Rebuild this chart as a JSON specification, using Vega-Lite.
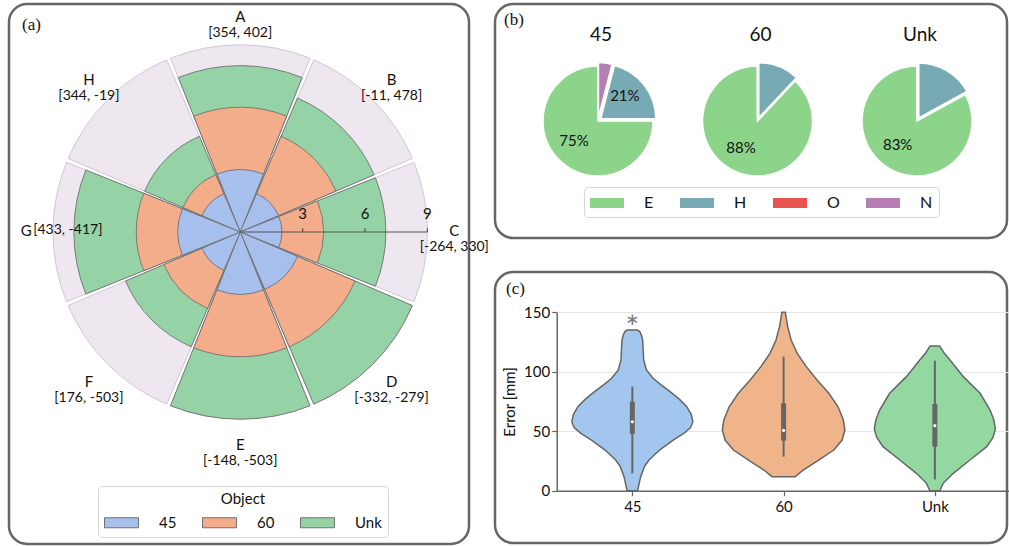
{
  "$schema": "https://vega.github.io/schema/vega-lite/v6.json",
  "background": "white",
  "padding": {"left": 7, "top": 2, "right": 0, "bottom": 0},
  "datasets": {
    "sectors": [
      {"sector": "A", "coord": "[354, 402]", "w": 1, "r45": 3, "r60": 6, "unk": 8},
      {"sector": "B", "coord": "[-11, 478]", "w": 1, "r45": 2, "r60": 5, "unk": 7},
      {"sector": "C", "coord": "[-264, 330]", "w": 1, "r45": 2, "r60": 4, "unk": 7},
      {"sector": "D", "coord": "[-332, -279]", "w": 1, "r45": 3, "r60": 6, "unk": 9},
      {"sector": "E", "coord": "[-148, -503]", "w": 1, "r45": 3, "r60": 6, "unk": 9},
      {"sector": "F", "coord": "[176, -503]", "w": 1, "r45": 2, "r60": 4, "unk": 6},
      {"sector": "G", "coord": "[433, -417]", "w": 1, "r45": 3, "r60": 5, "unk": 8},
      {"sector": "H", "coord": "[344, -19]", "w": 1, "r45": 2, "r60": 3, "unk": 5}
    ],
    "ticks": [{"t": 3}, {"t": 6}, {"t": 9}],
    "pie": [
      {"obj": "45", "type": "E", "pct": 75, "lab": "75%"},
      {"obj": "45", "type": "H", "pct": 21, "lab": "21%"},
      {"obj": "45", "type": "O", "pct": 0, "lab": ""},
      {"obj": "45", "type": "N", "pct": 4, "lab": ""},
      {"obj": "60", "type": "E", "pct": 88, "lab": "88%"},
      {"obj": "60", "type": "H", "pct": 12, "lab": ""},
      {"obj": "60", "type": "O", "pct": 0, "lab": ""},
      {"obj": "60", "type": "N", "pct": 0, "lab": ""},
      {"obj": "Unk", "type": "E", "pct": 83, "lab": "83%"},
      {"obj": "Unk", "type": "H", "pct": 17, "lab": ""},
      {"obj": "Unk", "type": "O", "pct": 0, "lab": ""},
      {"obj": "Unk", "type": "N", "pct": 0, "lab": ""}
    ],
    "pietitles": [{"obj": "45"}, {"obj": "60"}, {"obj": "Unk"}],
    "violin": [
      {"obj": "45", "err": 0, "lo": -0.035, "hi": 0.035},
      {"obj": "45", "err": 6, "lo": -0.045, "hi": 0.045},
      {"obj": "45", "err": 11.8, "lo": -0.055, "hi": 0.055},
      {"obj": "45", "err": 20.2, "lo": -0.08, "hi": 0.08},
      {"obj": "45", "err": 25.8, "lo": -0.11, "hi": 0.11},
      {"obj": "45", "err": 34.2, "lo": -0.18, "hi": 0.18},
      {"obj": "45", "err": 42.6, "lo": -0.27, "hi": 0.27},
      {"obj": "45", "err": 48.2, "lo": -0.34, "hi": 0.34},
      {"obj": "45", "err": 53, "lo": -0.385, "hi": 0.385},
      {"obj": "45", "err": 58, "lo": -0.4, "hi": 0.4},
      {"obj": "45", "err": 64, "lo": -0.39, "hi": 0.39},
      {"obj": "45", "err": 70.6, "lo": -0.36, "hi": 0.36},
      {"obj": "45", "err": 77, "lo": -0.31, "hi": 0.31},
      {"obj": "45", "err": 83.3, "lo": -0.25, "hi": 0.25},
      {"obj": "45", "err": 89, "lo": -0.19, "hi": 0.19},
      {"obj": "45", "err": 94.5, "lo": -0.137, "hi": 0.137},
      {"obj": "45", "err": 101.5, "lo": -0.093, "hi": 0.093},
      {"obj": "45", "err": 109.9, "lo": -0.075, "hi": 0.075},
      {"obj": "45", "err": 121.1, "lo": -0.071, "hi": 0.071},
      {"obj": "45", "err": 127, "lo": -0.068, "hi": 0.068},
      {"obj": "45", "err": 130.9, "lo": -0.06, "hi": 0.06},
      {"obj": "45", "err": 134, "lo": -0.048, "hi": 0.048},
      {"obj": "45", "err": 135.1, "lo": -0.033, "hi": 0.033},
      {"obj": "60", "err": 11.8, "lo": 0.923, "hi": 1.077},
      {"obj": "60", "err": 17.4, "lo": 0.87, "hi": 1.13},
      {"obj": "60", "err": 25.8, "lo": 0.768, "hi": 1.232},
      {"obj": "60", "err": 34.2, "lo": 0.668, "hi": 1.332},
      {"obj": "60", "err": 42.6, "lo": 0.613, "hi": 1.387},
      {"obj": "60", "err": 51, "lo": 0.595, "hi": 1.405},
      {"obj": "60", "err": 59.4, "lo": 0.605, "hi": 1.395},
      {"obj": "60", "err": 70.6, "lo": 0.64, "hi": 1.36},
      {"obj": "60", "err": 81.9, "lo": 0.701, "hi": 1.299},
      {"obj": "60", "err": 93.1, "lo": 0.779, "hi": 1.221},
      {"obj": "60", "err": 104.3, "lo": 0.85, "hi": 1.15},
      {"obj": "60", "err": 115.5, "lo": 0.91, "hi": 1.09},
      {"obj": "60", "err": 126.7, "lo": 0.95, "hi": 1.05},
      {"obj": "60", "err": 137.9, "lo": 0.973, "hi": 1.027},
      {"obj": "60", "err": 150, "lo": 0.989, "hi": 1.011},
      {"obj": "Unk", "err": 0, "lo": 1.967, "hi": 2.033},
      {"obj": "Unk", "err": 6.2, "lo": 1.945, "hi": 2.055},
      {"obj": "Unk", "err": 14.6, "lo": 1.878, "hi": 2.122},
      {"obj": "Unk", "err": 25.8, "lo": 1.768, "hi": 2.232},
      {"obj": "Unk", "err": 37, "lo": 1.657, "hi": 2.343},
      {"obj": "Unk", "err": 45, "lo": 1.615, "hi": 2.385},
      {"obj": "Unk", "err": 51.9, "lo": 1.6, "hi": 2.4},
      {"obj": "Unk", "err": 59.4, "lo": 1.61, "hi": 2.39},
      {"obj": "Unk", "err": 67.8, "lo": 1.635, "hi": 2.365},
      {"obj": "Unk", "err": 81.9, "lo": 1.701, "hi": 2.299},
      {"obj": "Unk", "err": 95.9, "lo": 1.812, "hi": 2.188},
      {"obj": "Unk", "err": 109.9, "lo": 1.9, "hi": 2.1},
      {"obj": "Unk", "err": 116, "lo": 1.94, "hi": 2.06},
      {"obj": "Unk", "err": 121.7, "lo": 1.969, "hi": 2.031}
    ],
    "box": [
      {"obj": "45", "pos": 0, "wlo": 14.6, "whi": 87.5, "q1": 47.7, "q3": 74.9, "med": 58.0},
      {"obj": "60", "pos": 1, "wlo": 28.6, "whi": 112.7, "q1": 42.1, "q3": 73.5, "med": 50.7},
      {"obj": "Unk", "pos": 2, "wlo": 9.5, "whi": 109.3, "q1": 37.0, "q3": 72.9, "med": 54.7}
    ],
    "sig": [{"obj": "45", "pos": 0, "err": 142, "mark": "*"}]
  },
  "hconcat": [
    {
      "width": 460,
      "height": 540,
      "data": {"name": "sectors"},
      "layer": [
        {
          "transform": [{"stack": "w", "groupby": [], "sort": [{"field": "sector", "order": "ascending"}], "as": ["t0", "t1"]}],
          "mark": {"type": "arc", "fill": "#efe7f0", "stroke": "#cec6d2", "strokeWidth": 1, "padAngle": 0.022},
          "encoding": {
            "theta": {"field": "t0", "type": "quantitative", "stack": null, "scale": {"domain": [0, 8], "range": [-0.3927, 5.8905]}},
            "theta2": {"field": "t1"},
            "radius": {"datum": 9, "type": "quantitative", "scale": {"type": "linear", "domain": [0, 9], "range": [0, 187.2], "zero": true, "nice": false}},
            "x": {"datum": 0, "type": "quantitative", "scale": {"domain": [-11.12, 11.0], "nice": false, "zero": false}, "axis": null},
            "y": {"datum": 0, "type": "quantitative", "scale": {"domain": [-15.0, 10.96], "nice": false, "zero": false}, "axis": null}
          }
        },
        {
          "transform": [{"stack": "w", "groupby": [], "sort": [{"field": "sector", "order": "ascending"}], "as": ["t0", "t1"]}],
          "mark": {"type": "arc", "stroke": "#707070", "strokeWidth": 0.9, "padAngle": 0.022},
          "encoding": {
            "theta": {"field": "t0", "type": "quantitative", "stack": null},
            "theta2": {"field": "t1"},
            "radius": {"field": "unk", "type": "quantitative", "stack": null},
            "x": {"datum": 0, "type": "quantitative"},
            "y": {"datum": 0, "type": "quantitative"},
            "color": {"datum": "Unk", "type": "nominal",
              "scale": {"domain": ["45", "60", "Unk"], "range": ["#a6bfec", "#f4ad8b", "#95d3a6"]},
              "legend": {"title": "Object", "orient": "none", "legendX": 89, "legendY": 482, "direction": "horizontal", "titleAnchor": "middle", "titleFontSize": 15, "titleFontWeight": "normal", "titleColor": "#111", "titlePadding": 5, "labelFontSize": 15, "labelColor": "#111", "labelOffset": 27, "symbolType": "M-1.7,-0.5H1.7V0.5H-1.7Z", "symbolSize": 400, "symbolOffset": 7, "symbolStrokeColor": "#888", "symbolStrokeWidth": 1, "symbolOpacity": 1, "columnPadding": 23, "gridAlign": "each", "padding": 6, "strokeColor": "#d6d6d6", "fillColor": "white", "cornerRadius": 4}}
          }
        },
        {
          "transform": [{"stack": "w", "groupby": [], "sort": [{"field": "sector", "order": "ascending"}], "as": ["t0", "t1"]}],
          "mark": {"type": "arc", "stroke": "#707070", "strokeWidth": 0.9, "padAngle": 0.022},
          "encoding": {
            "theta": {"field": "t0", "type": "quantitative", "stack": null},
            "theta2": {"field": "t1"},
            "radius": {"field": "r60", "type": "quantitative", "stack": null},
            "x": {"datum": 0, "type": "quantitative"},
            "y": {"datum": 0, "type": "quantitative"},
            "color": {"datum": "60", "type": "nominal"}
          }
        },
        {
          "transform": [{"stack": "w", "groupby": [], "sort": [{"field": "sector", "order": "ascending"}], "as": ["t0", "t1"]}],
          "mark": {"type": "arc", "stroke": "#707070", "strokeWidth": 0.9, "padAngle": 0.022},
          "encoding": {
            "theta": {"field": "t0", "type": "quantitative", "stack": null},
            "theta2": {"field": "t1"},
            "radius": {"field": "r45", "type": "quantitative", "stack": null},
            "x": {"datum": 0, "type": "quantitative"},
            "y": {"datum": 0, "type": "quantitative"},
            "color": {"datum": "45", "type": "nominal"}
          }
        },
        {
          "data": {"values": [{"axis": "r"}]},
          "mark": {"type": "rule", "color": "#555555", "strokeWidth": 1.2},
          "encoding": {
            "x": {"datum": 0, "type": "quantitative"},
            "x2": {"datum": 9},
            "y": {"datum": 0, "type": "quantitative"}
          }
        },
        {
          "data": {"name": "ticks"},
          "mark": {"type": "rule", "color": "#555555", "strokeWidth": 1.2},
          "encoding": {
            "x": {"field": "t", "type": "quantitative"},
            "y": {"datum": 0, "type": "quantitative"},
            "y2": {"datum": 0.18}
          }
        },
        {
          "data": {"name": "ticks"},
          "mark": {"type": "text", "fontSize": 15, "baseline": "middle", "align": "center", "color": "#111"},
          "encoding": {
            "x": {"field": "t", "type": "quantitative"},
            "y": {"datum": 0.85, "type": "quantitative"},
            "text": {"field": "t", "type": "quantitative"}
          }
        },
        {
          "mark": {"type": "text", "fontSize": 15, "align": "center", "baseline": "middle", "dy": -1, "color": "#111"},
          "encoding": {
            "theta": {"field": "w", "type": "quantitative", "stack": true},
            "order": {"field": "sector", "type": "ordinal", "sort": "ascending"},
            "radius": {"datum": 10.29, "type": "quantitative"},
            "x": {"datum": 0, "type": "quantitative"},
            "y": {"datum": 0, "type": "quantitative"},
            "text": {"field": "sector", "type": "nominal"}
          }
        },
        {
          "mark": {"type": "text", "fontSize": 14, "align": "center", "baseline": "middle", "dy": 15, "color": "#111"},
          "encoding": {
            "theta": {"field": "w", "type": "quantitative", "stack": true},
            "order": {"field": "sector", "type": "ordinal", "sort": "ascending"},
            "radius": {"datum": 10.29, "type": "quantitative"},
            "x": {"datum": 0, "type": "quantitative"},
            "y": {"datum": 0, "type": "quantitative"},
            "text": {"field": "coord", "type": "nominal", "condition": {"test": "datum.sector === 'G'", "value": ""}}
          }
        },
        {
          "mark": {"type": "text", "fontSize": 14, "align": "left", "baseline": "middle", "dx": 7, "dy": -2, "color": "#111"},
          "encoding": {
            "theta": {"field": "w", "type": "quantitative", "stack": true},
            "order": {"field": "sector", "type": "ordinal", "sort": "ascending"},
            "radius": {"datum": 10.29, "type": "quantitative"},
            "x": {"datum": 0, "type": "quantitative"},
            "y": {"datum": 0, "type": "quantitative"},
            "text": {"field": "coord", "type": "nominal", "condition": {"test": "datum.sector !== 'G'", "value": ""}}
          }
        },
        {
          "data": {"values": [{"label": "(a)"}]},
          "mark": {"type": "text", "font": "Liberation Serif", "fontSize": 17, "align": "left", "baseline": "middle", "dx": -217, "dy": -249, "color": "#111"},
          "encoding": {"text": {"field": "label", "type": "nominal"}}
        }
      ]
    },
    {
      "vconcat": [
        {
          "width": 512,
          "height": 234,
          "layer": [
            {
              "data": {"values": [{"label": "(b)"}]},
              "mark": {"type": "text", "font": "Liberation Serif", "fontSize": 17, "align": "left", "baseline": "middle", "dx": -247, "dy": -101, "color": "#111"},
              "encoding": {"text": {"field": "label", "type": "nominal"}}
            },
            {
              "data": {"name": "pietitles"},
              "mark": {"type": "text", "fontSize": 19, "baseline": "middle", "dy": -86, "dx": 3, "color": "#111"},
              "encoding": {
                "x": {"field": "obj", "type": "nominal", "scale": {"type": "point", "domain": ["45", "60", "Unk"], "range": [103, 422], "padding": 0}, "axis": null},
                "text": {"field": "obj", "type": "nominal"}
              }
            },
            {
              "data": {"name": "pie"},
              "transform": [{"filter": "datum.obj === '45'"}],
              "encoding": {
                "theta": {"field": "pct", "type": "quantitative", "stack": true, "scale": {"domain": [0, 100]}},
                "order": {"field": "type", "type": "ordinal", "sort": "descending"},
                "x": {"datum": "45", "type": "nominal"}
              },
              "layer": [
                {"mark": {"type": "arc", "radius": 55, "stroke": "white", "strokeWidth": 1.5,
                   "xOffset": {"expr": "datum.type === 'E' ? 0 : 3.5 * sin(PI * (datum.pct_start + datum.pct_end) / 100)"},
                   "yOffset": {"expr": "datum.type === 'E' ? 0 : -3.5 * cos(PI * (datum.pct_start + datum.pct_end) / 100)"}},
                 "encoding": {"color": {"field": "type", "type": "nominal",
                   "scale": {"domain": ["E", "H", "O", "N"], "range": ["#8dd48b", "#78aab4", "#e8534f", "#b57fb4"]},
                   "legend": {"title": null, "orient": "none", "legendX": 89, "legendY": 183, "direction": "horizontal", "labelFontSize": 16, "labelColor": "#111", "labelOffset": 27, "symbolType": "M-1.7,-0.5H1.7V0.5H-1.7Z", "symbolSize": 400, "symbolOffset": 7, "symbolStrokeWidth": 0, "symbolOpacity": 1, "columnPadding": 26, "gridAlign": "each", "padding": 6, "strokeColor": "#d6d6d6", "fillColor": "white", "cornerRadius": 4}}}},
                {"mark": {"type": "text", "radius": 34, "fontSize": 15, "dy": -4, "color": "#111"},
                 "encoding": {"text": {"field": "lab", "type": "nominal"}}}
              ]
            },
            {
              "data": {"name": "pie"},
              "transform": [{"filter": "datum.obj === '60'"}],
              "encoding": {
                "theta": {"field": "pct", "type": "quantitative", "stack": true},
                "order": {"field": "type", "type": "ordinal", "sort": "descending"},
                "x": {"datum": "60", "type": "nominal"}
              },
              "layer": [
                {"mark": {"type": "arc", "radius": 55, "stroke": "white", "strokeWidth": 1.5,
                   "xOffset": {"expr": "datum.type === 'E' ? 0 : 3.5 * sin(PI * (datum.pct_start + datum.pct_end) / 100)"},
                   "yOffset": {"expr": "datum.type === 'E' ? 0 : -3.5 * cos(PI * (datum.pct_start + datum.pct_end) / 100)"}},
                 "encoding": {"color": {"field": "type", "type": "nominal"}}},
                {"mark": {"type": "text", "radius": 34, "fontSize": 15, "dy": -5, "dx": -4, "color": "#111"},
                 "encoding": {"text": {"field": "lab", "type": "nominal"}}}
              ]
            },
            {
              "data": {"name": "pie"},
              "transform": [{"filter": "datum.obj === 'Unk'"}],
              "encoding": {
                "theta": {"field": "pct", "type": "quantitative", "stack": true},
                "order": {"field": "type", "type": "ordinal", "sort": "descending"},
                "x": {"datum": "Unk", "type": "nominal"}
              },
              "layer": [
                {"mark": {"type": "arc", "radius": 55, "stroke": "white", "strokeWidth": 1.5,
                   "xOffset": {"expr": "datum.type === 'E' ? 0 : 3.5 * sin(PI * (datum.pct_start + datum.pct_end) / 100)"},
                   "yOffset": {"expr": "datum.type === 'E' ? 0 : -3.5 * cos(PI * (datum.pct_start + datum.pct_end) / 100)"}},
                 "encoding": {"color": {"field": "type", "type": "nominal"}}},
                {"mark": {"type": "text", "radius": 34, "fontSize": 15, "dy": -5, "dx": -2, "color": "#111"},
                 "encoding": {"text": {"field": "lab", "type": "nominal"}}}
              ]
            }
          ]
        },
        {
          "width": 512,
          "height": 271,
          "layer": [
            {
              "data": {"name": "violin"},
              "mark": {"type": "area", "orient": "horizontal", "stroke": "#666666", "strokeWidth": 1.5, "opacity": 1},
              "encoding": {
                "y": {"field": "err", "type": "quantitative", "scale": {"domain": [0, 150], "range": [218.7, 40.3], "nice": false, "zero": false},
                  "axis": {"values": [0, 50, 100, 150], "offset": -61.7, "title": "Error [mm]", "titleFontSize": 15, "titleFontWeight": "normal", "titleColor": "#111", "titlePadding": 6, "labelFontSize": 15, "labelColor": "#111", "labelPadding": 2, "domainColor": "#666666", "domainWidth": 1.5, "tickColor": "#666666", "tickSize": 5, "tickWidth": 1.2, "grid": true, "gridColor": "#e4e4e4", "gridWidth": 1.2}},
                "x": {"field": "lo", "type": "quantitative", "stack": null, "scale": {"domain": [-0.5, 2.5], "range": [61.7, 515.5], "nice": false, "zero": false},
                  "axis": {"values": [0, 1, 2], "labelExpr": "datum.value == 0 ? '45' : datum.value == 1 ? '60' : 'Unk'", "offset": -52.3, "title": null, "grid": false, "labelFontSize": 15, "labelColor": "#111", "labelPadding": 4, "domainColor": "#666666", "domainWidth": 1.5, "tickColor": "#666666", "tickSize": 5, "tickWidth": 1.2}},
                "x2": {"field": "hi"},
                "color": {"field": "obj", "type": "nominal", "scale": {"domain": ["45", "60", "Unk"], "range": ["#a3c6ee", "#f0b48a", "#92d8a0"]}, "legend": null}
              }
            },
            {
              "data": {"name": "box"},
              "mark": {"type": "rule", "color": "#666666", "strokeWidth": 2},
              "encoding": {
                "x": {"field": "pos", "type": "quantitative"},
                "y": {"field": "wlo", "type": "quantitative"},
                "y2": {"field": "whi"}
              }
            },
            {
              "data": {"name": "box"},
              "mark": {"type": "rule", "color": "#666666", "strokeWidth": 5},
              "encoding": {
                "x": {"field": "pos", "type": "quantitative"},
                "y": {"field": "q1", "type": "quantitative"},
                "y2": {"field": "q3"}
              }
            },
            {
              "data": {"name": "box"},
              "mark": {"type": "point", "filled": true, "color": "white", "size": 10, "opacity": 1},
              "encoding": {
                "x": {"field": "pos", "type": "quantitative"},
                "y": {"field": "med", "type": "quantitative"}
              }
            },
            {
              "data": {"name": "sig"},
              "mark": {"type": "text", "fontSize": 32, "color": "#777777", "baseline": "alphabetic", "dy": 17},
              "encoding": {
                "x": {"field": "pos", "type": "quantitative"},
                "y": {"field": "err", "type": "quantitative"},
                "text": {"field": "mark", "type": "nominal"}
              }
            },
            {
              "data": {"values": [{"label": "(c)"}]},
              "mark": {"type": "text", "font": "Liberation Serif", "fontSize": 17, "align": "left", "baseline": "middle", "dx": -245, "dy": -119, "color": "#111"},
              "encoding": {"text": {"field": "label", "type": "nominal"}}
            }
          ]
        }
      ],
      "spacing": 34,
      "bounds": "flush",
      "resolve": {"scale": {"color": "independent", "theta": "independent", "radius": "independent"}, "legend": {"color": "independent"}}
    }
  ],
  "spacing": 26,
  "bounds": "flush",
  "resolve": {"scale": {"color": "independent", "theta": "independent", "radius": "independent"}, "legend": {"color": "independent"}},
  "config": {
    "font": "Lato",
    "view": {"stroke": "#666666", "strokeWidth": 2.5, "cornerRadius": 18},
    "text": {"font": "Lato"},
    "legend": {"labelFont": "Lato", "titleFont": "Lato"},
    "axis": {"labelFont": "Lato", "titleFont": "Lato"}
  }
}
